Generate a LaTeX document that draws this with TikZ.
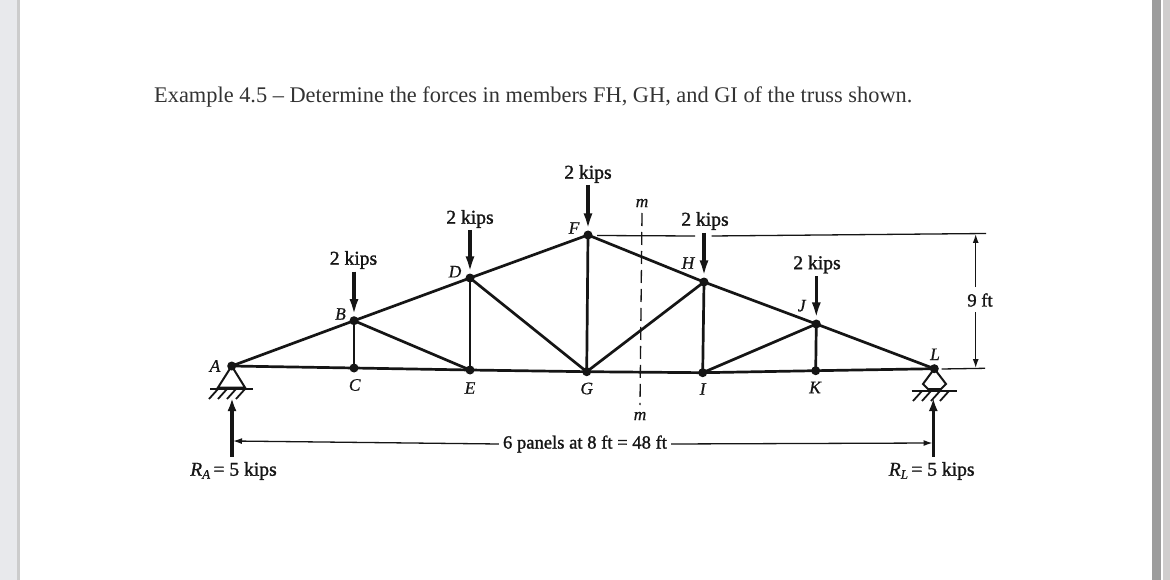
\documentclass[tikz,border=0pt]{standalone}
\usepackage{fontspec}
\setmainfont{Liberation Serif}
\newfontfamily\semib[FakeBold=1.3]{Liberation Serif}
\newfontfamily\semii[FakeBold=0.6]{Liberation Serif Italic}
\usetikzlibrary{arrows.meta}
\definecolor{ink}{HTML}{151515}
\definecolor{titleink}{HTML}{333333}
\definecolor{leftbg}{HTML}{E8E9EC}
\definecolor{leftedge}{HTML}{CCCCCC}
\definecolor{rightdark}{HTML}{9C9C9C}
\definecolor{rightlight}{HTML}{D0CECE}
\tikzset{
  joint/.style={circle,fill=ink,inner sep=0pt,minimum size=9pt},
  member/.style={draw=ink,line width=2.7pt},
  load/.style={draw=ink,line width=3.4pt,-{Latex[length=17pt,width=9pt]}},
  react/.style={draw=ink,line width=3.2pt,-{Latex[length=13pt,width=9pt]}},
  thin line/.style={draw=ink,line width=1.3pt},
  dimarrow/.style={draw=ink,line width=1.3pt,-{Latex[length=9pt,width=6pt]}},
  cut/.style={draw=ink,line width=1.3pt,dash pattern=on 13pt off 6pt},
  hatchl/.style={draw=ink,line width=1.8pt},
  kips/.style={font=\semib\fontsize{19.6}{21}\selectfont,text=ink,inner sep=0pt},
  dimtext/.style={font=\semib\fontsize{18.6}{20}\selectfont,text=ink,inner sep=0pt},
  letter/.style={font=\semii\fontsize{17.5}{19}\selectfont,text=ink,inner sep=0pt},
}
\begin{document}
\begin{tikzpicture}[x=1pt,y=-1pt]
\useasboundingbox (0,0) rectangle (1170,580);
\fill[white] (0,0) rectangle (1170,580);
\fill[leftbg] (0,0) rectangle (17,580);
\fill[leftedge] (17,0) rectangle (19.5,580);
\fill[rightdark] (1152,0) rectangle (1161,580);
\fill[rightlight] (1162.5,0) rectangle (1170,580);

\node[anchor=base west,inner sep=0pt,text=titleink,font=\fontsize{22.36}{24}\selectfont] (title) at (154,103)
  {Example 4.5 – Determine the forces in members FH, GH, and GI of the truss shown.};

% joints
\node[joint] (A) at (231.7,366) {};
\node[joint] (B) at (354,320.7) {};
\node[joint] (C) at (354,368) {};
\node[joint] (D) at (470,278) {};
\node[joint] (E) at (470,370) {};
\node[joint] (F) at (588,235) {};
\node[joint] (G) at (586.7,371.7) {};
\node[joint] (H) at (704,282) {};
\node[joint] (I) at (702.7,372.7) {};
\node[joint] (J) at (816.3,324) {};
\node[joint] (K) at (815.7,370.7) {};
\node[joint] (L) at (934.3,368.7) {};

% members
\draw[member] (A.center) -- (B.center) -- (D.center) -- (F.center) -- (H.center) -- (J.center) -- (L.center);
\draw[member] (A.center) -- (C.center) -- (E.center) -- (G.center) -- (I.center) -- (K.center) -- (L.center);
\draw[member] (B.center) -- (C.center);
\draw[member] (D.center) -- (E.center);
\draw[member] (F.center) -- (G.center);
\draw[member] (H.center) -- (I.center);
\draw[member] (J.center) -- (K.center);
\draw[member] (B.center) -- (E.center);
\draw[member] (D.center) -- (G.center);
\draw[member] (H.center) -- (G.center);
\draw[member] (J.center) -- (I.center);

% loads
\coordinate (lB) at (354,271.5);
\coordinate (lD) at (470,230);
\coordinate (lF) at (588,185);
\coordinate (lH) at (704,233);
\coordinate (lJ) at (816.3,276);
\draw[load] (lB) -- (B);
\draw[load] (lD) -- (D);
\draw[load] (lF) -- (F);
\draw[load] (lH) -- (H);
\draw[load] (lJ) -- (J);
\node[kips] (tB) at (353.5,260) {2 kips};
\node[kips] (tD) at (470,219) {2 kips};
\node[kips] (tF) at (588,174) {2 kips};
\node[kips] (tH) at (705,221) {2 kips};
\node[kips] (tJ) at (817,264.5) {2 kips};

% letters
\node[letter] (nA) at (215,366) {A};
\node[letter] (nB) at (340.5,314) {B};
\node[letter] (nC) at (354.7,385) {C};
\node[letter] (nD) at (455,271.7) {D};
\node[letter] (nE) at (470,388) {E};
\node[letter] (nF) at (574,228) {F};
\node[letter] (nG) at (586.7,388.5) {G};
\node[letter] (nH) at (688,263) {H};
\node[letter] (nI) at (702.7,389) {I};
\node[letter] (nJ) at (801.7,305.7) {J};
\node[letter] (nK) at (815,387.5) {K};
\node[letter] (nL) at (935,354.3) {L};

% left support
\draw[hatchl,line width=2pt] (A.center) -- (218,387.5) -- (245,387.5) -- cycle;
\draw[hatchl] (210,388.7) -- (253,388.7);
\foreach \x in {218,227,236,245}{\draw[hatchl] (\x,389) -- (\x-9,399);}
% right support
\draw[hatchl,line width=2pt] (L.center) -- (923,384) -- (928,389) -- (941,389) -- (946,384) -- cycle;
\draw[hatchl] (911.7,390.7) -- (956.7,390.7);
\foreach \x in {922,931,940,949}{\draw[hatchl] (\x,391) -- (\x-9,401);}

% reactions
\coordinate (rA0) at (232,456.7);
\coordinate (rA1) at (232,398);
\coordinate (rL0) at (933.3,456.7);
\coordinate (rL1) at (933.3,398);
\draw[react] (rA0) -- (rA1);
\draw[react] (rL0) -- (rL1);
\node[dimtext,font=\semib\fontsize{19.6}{20}\selectfont] (RA) at (233.5,471) {{\semii R\raisebox{-3pt}{\fontsize{13}{13}\selectfont A}}\,= 5 kips};
\node[dimtext,font=\semib\fontsize{19.6}{20}\selectfont] (RL) at (931.7,471) {{\semii R\raisebox{-3pt}{\fontsize{13}{13}\selectfont L}}\,= 5 kips};

% span dimension
\node[dimtext] (span) at (585,444) {6 panels at 8 ft = 48 ft};
\coordinate (dA) at (233,441);
\coordinate (dL) at (932.5,443);
\draw[dimarrow] (span.west) ++(-4,0) -- (dA);
\draw[dimarrow] (span.east) ++(4,0) -- (dL);

% height dimension
\coordinate (e1) at (597,235.5);
\coordinate (e2) at (695,236);
\coordinate (e3) at (711.5,236);
\coordinate (e4) at (986,233.5);
\coordinate (e5) at (941.5,369);
\coordinate (e6) at (985,368.3);
\draw[thin line] (e1) -- (e2);
\draw[thin line] (e3) -- (e4);
\draw[thin line] (e5) -- (e6);
\node[dimtext] (nine) at (980,300) {9 ft};
\coordinate (h1) at (975.7,234);
\coordinate (h2) at (975.7,368);
\draw[dimarrow] (975.7,287) -- (h1);
\draw[dimarrow] (975.7,312) -- (h2);

% section line
\node[letter] (m1) at (642,203) {m};
\node[letter] (m2) at (640,416) {m};
\coordinate (c1) at (642,213);
\coordinate (c2) at (640,405);
\draw[cut] (c1) -- (c2);
\end{tikzpicture}
\end{document}
